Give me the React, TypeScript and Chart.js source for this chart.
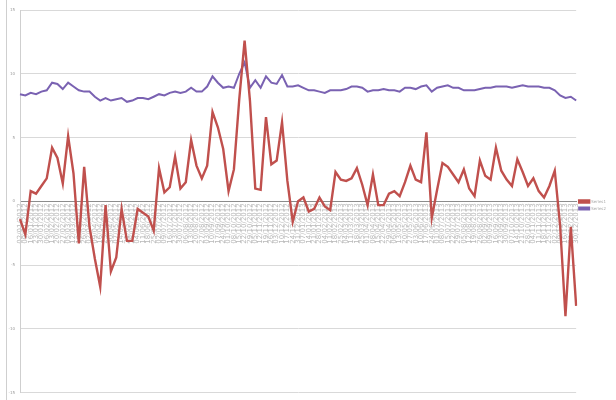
import React, { useEffect, useRef } from "react";
import { Chart, registerables } from "chart.js";

Chart.register(...registerables);

const dates: string[] = [
  "02/01/2012", "09/01/2012", "16/01/2012", "23/01/2012", "30/01/2012",
  "06/02/2012", "13/02/2012", "20/02/2012", "27/02/2012",
  "05/03/2012", "12/03/2012", "19/03/2012", "26/03/2012",
  "02/04/2012", "09/04/2012", "16/04/2012", "23/04/2012", "30/04/2012",
  "07/05/2012", "14/05/2012", "21/05/2012", "28/05/2012",
  "04/06/2012", "11/06/2012", "18/06/2012", "25/06/2012",
  "02/07/2012", "09/07/2012", "16/07/2012", "23/07/2012", "30/07/2012",
  "06/08/2012", "13/08/2012", "20/08/2012", "27/08/2012",
  "03/09/2012", "10/09/2012", "17/09/2012", "24/09/2012",
  "01/10/2012", "08/10/2012", "15/10/2012", "22/10/2012", "29/10/2012",
  "05/11/2012", "12/11/2012", "19/11/2012", "26/11/2012",
  "03/12/2012", "10/12/2012", "17/12/2012", "24/12/2012", "31/12/2012",
  "07/01/2013", "14/01/2013", "21/01/2013", "28/01/2013",
  "04/02/2013", "11/02/2013", "18/02/2013", "25/02/2013",
  "04/03/2013", "11/03/2013", "18/03/2013", "25/03/2013",
  "01/04/2013", "08/04/2013", "15/04/2013", "22/04/2013", "29/04/2013",
  "06/05/2013", "13/05/2013", "20/05/2013", "27/05/2013",
  "03/06/2013", "10/06/2013", "17/06/2013", "24/06/2013",
  "01/07/2013", "08/07/2013", "15/07/2013", "22/07/2013", "29/07/2013",
  "05/08/2013", "12/08/2013", "19/08/2013", "26/08/2013",
  "02/09/2013", "09/09/2013", "16/09/2013", "23/09/2013", "30/09/2013",
  "07/10/2013", "14/10/2013", "21/10/2013", "28/10/2013",
  "04/11/2013", "11/11/2013", "18/11/2013", "25/11/2013",
  "02/12/2013", "09/12/2013", "16/12/2013", "23/12/2013", "30/12/2013",
];

const seriesRed: number[] = [
  -1.4, -2.6, 0.8, 0.6, 1.2, 1.8, 4.2, 3.4, 1.4, 5.1,
  2.2, -3.3, 2.7, -2.0, -4.5, -6.7, -0.3, -5.5, -4.4, -0.6,
  -3.1, -3.1, -0.6, -0.9, -1.2, -2.3, 2.6, 0.7, 1.1, 3.5,
  1.0, 1.5, 4.8, 2.8, 1.8, 2.8, 7.0, 5.8, 4.1, 0.8,
  2.5, 8.0, 12.6, 7.9, 1.0, 0.9, 6.6, 2.9, 3.2, 6.2,
  1.6, -1.6, 0.0, 0.3, -0.8, -0.6, 0.3, -0.4, -0.7, 2.3,
  1.7, 1.6, 1.8, 2.6, 1.3, -0.3, 2.1, -0.3, -0.3, 0.6,
  0.8, 0.4, 1.5, 2.8, 1.7, 1.5, 5.4, -1.3, 0.9, 3.0,
  2.7, 2.1, 1.5, 2.5, 1.0, 0.4, 3.2, 2.0, 1.7, 4.2,
  2.4, 1.7, 1.2, 3.3, 2.3, 1.2, 1.8, 0.8, 0.3, 1.2,
  2.4, -1.9, -9.0, -2.0, -8.2,
];

const seriesPurple: number[] = [
  8.4, 8.3, 8.5, 8.4, 8.6, 8.7, 9.3, 9.2, 8.8, 9.3,
  9.0, 8.7, 8.6, 8.6, 8.2, 7.9, 8.1, 7.9, 8.0, 8.1,
  7.8, 7.9, 8.1, 8.1, 8.0, 8.2, 8.4, 8.3, 8.5, 8.6,
  8.5, 8.6, 8.9, 8.6, 8.6, 9.0, 9.8, 9.3, 8.9, 9.0,
  8.9, 10.0, 10.9, 8.9, 9.5, 8.9, 9.8, 9.3, 9.2, 9.9,
  9.0, 9.0, 9.1, 8.9, 8.7, 8.7, 8.6, 8.5, 8.7, 8.7,
  8.7, 8.8, 9.0, 9.0, 8.9, 8.6, 8.7, 8.7, 8.8, 8.7,
  8.7, 8.6, 8.9, 8.9, 8.8, 9.0, 9.1, 8.6, 8.9, 9.0,
  9.1, 8.9, 8.9, 8.7, 8.7, 8.7, 8.8, 8.9, 8.9, 9.0,
  9.0, 9.0, 8.9, 9.0, 9.1, 9.0, 9.0, 9.0, 8.9, 8.9,
  8.7, 8.3, 8.1, 8.2, 7.9,
];

const seriesNames: string[] = ["Series1", "Series2"];
const yTicks: number[] = [-15, -10, -5, 0, 5, 10, 15];

export default function App() {
  const ref = useRef<HTMLCanvasElement | null>(null);

  useEffect(() => {
    if (!ref.current) return;
    const chart = new Chart(ref.current, {
      type: "line",
      data: {
        labels: dates,
        datasets: [
          {
            label: seriesNames[0],
            data: seriesRed,
            borderColor: "#c0504d",
            backgroundColor: "#c0504d",
            borderWidth: 2.4,
            pointRadius: 0,
            tension: 0,
          },
          {
            label: seriesNames[1],
            data: seriesPurple,
            borderColor: "#7a62b2",
            backgroundColor: "#7a62b2",
            borderWidth: 2,
            pointRadius: 0,
            tension: 0,
          },
        ],
      },
      options: {
        animation: false,
        responsive: false,
        maintainAspectRatio: false,
        layout: { padding: { left: 6, top: 10, right: 0, bottom: 0 } },
        plugins: {
          tooltip: { enabled: false },
          legend: {
            position: "right",
            labels: {
              boxWidth: 10,
              boxHeight: 2,
              padding: 3,
              color: "#aaa",
              font: { size: 4, family: "DejaVu Sans" },
            },
          },
        },
        scales: {
          x: {
            position: { y: 0 } as any,
            grid: { display: false, drawTicks: false },
            border: { display: true, color: "#8c8c8c", width: 1 },
            ticks: {
              autoSkip: false,
              maxRotation: 90,
              minRotation: 90,
              padding: 2,
              color: "#b8b8b8",
              font: { size: 7, family: "DejaVu Sans" },
            },
          },
          y: {
            min: -15,
            max: 15,
            afterBuildTicks: (scale: any) => {
              scale.ticks = yTicks.map((v) => ({ value: v }));
            },
            afterFit: (scale: any) => {
              scale.width = 14;
            },
            grid: { color: "#d9d9d9", lineWidth: 1, drawTicks: false },
            border: { display: true, color: "#cfcfcf", width: 1 },
            ticks: {
              padding: 5,
              color: "#999",
              font: { size: 4, family: "DejaVu Sans" },
            },
          },
        },
      },
    });
    return () => chart.destroy();
  }, []);

  return (
    <div
      style={{
        position: "absolute",
        left: 0,
        top: 0,
        width: 616,
        height: 400,
        background: "#fff",
      }}
    >
      <div
        style={{
          position: "absolute",
          left: 6,
          top: 0,
          width: 1,
          height: 400,
          background: "#cfcfcf",
        }}
      />
      <canvas ref={ref} width={616} height={400} style={{ display: "block" }} />
    </div>
  );
}
